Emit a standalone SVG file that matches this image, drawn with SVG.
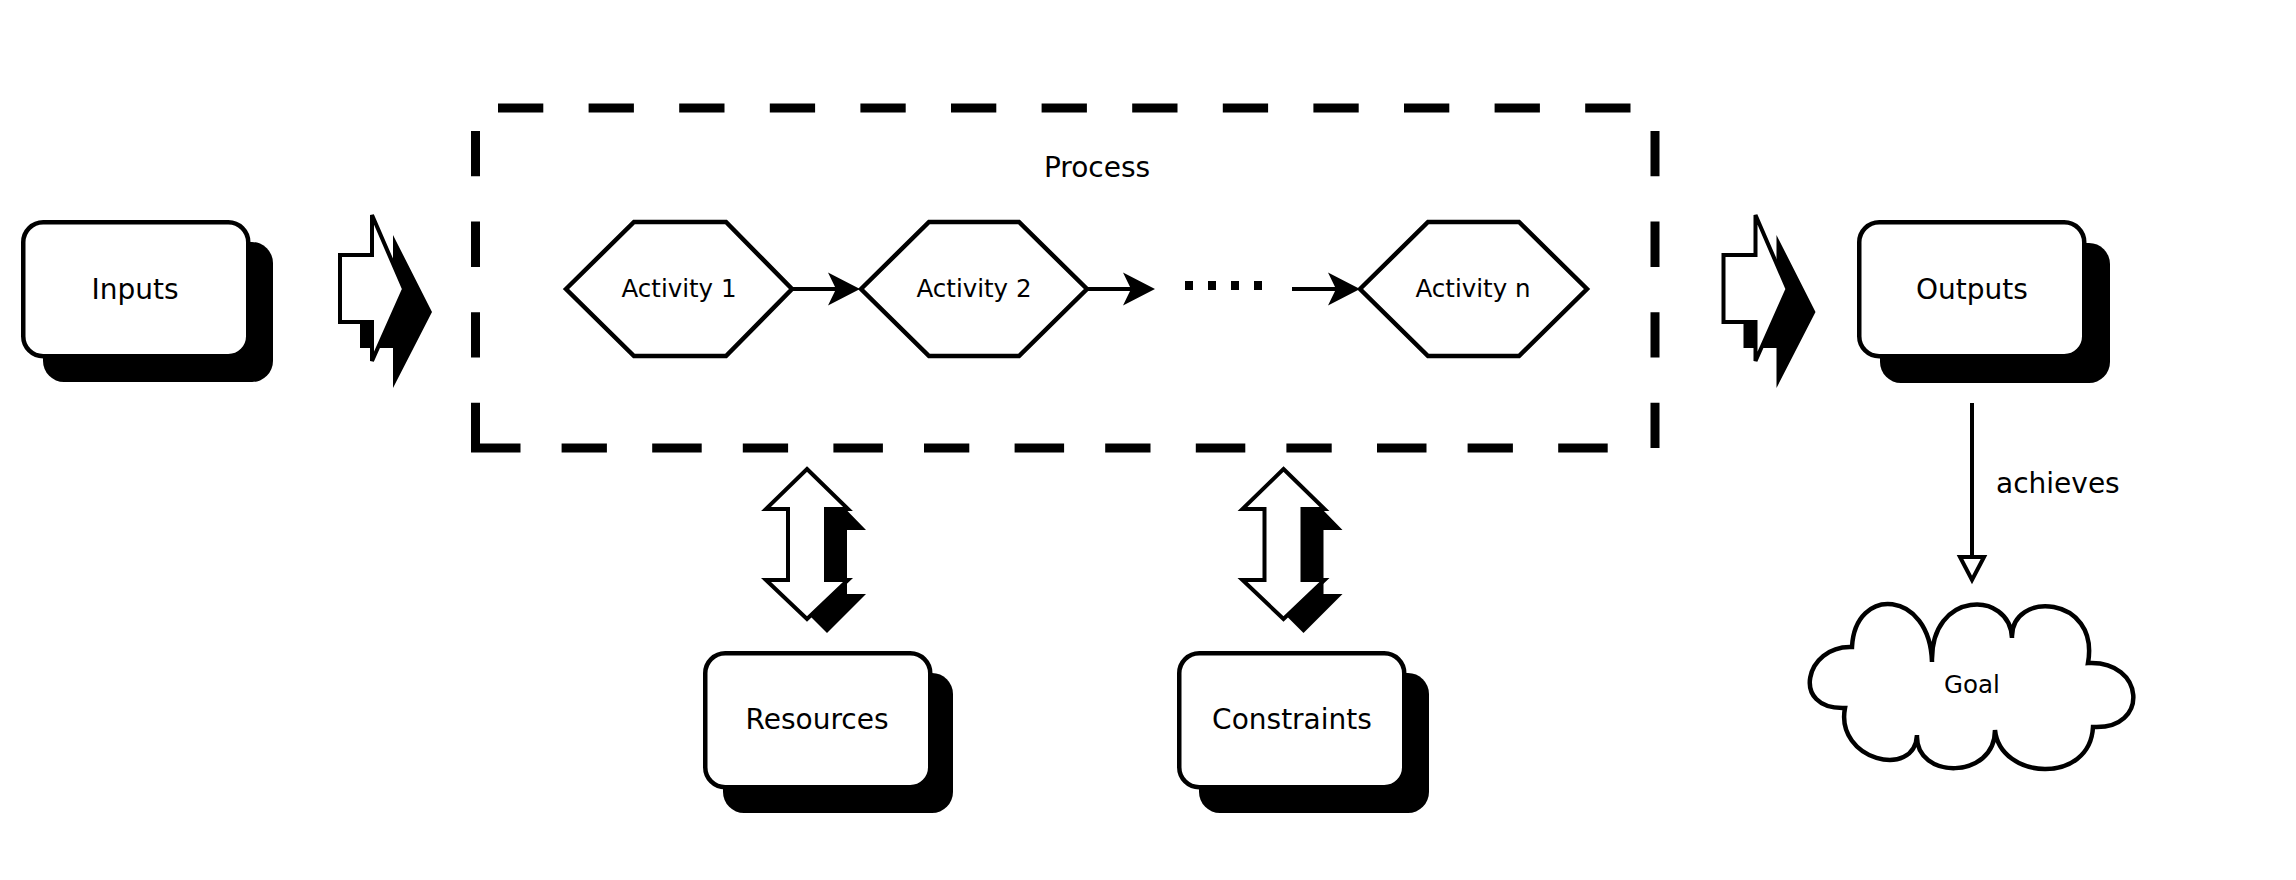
<svg xmlns="http://www.w3.org/2000/svg" width="2296" height="880" viewBox="0 0 2296 880">
<style>
  text { font-family: "DejaVu Sans", "Liberation Sans", sans-serif; fill: #000; }
  .lbl { font-size: 28px; text-anchor: middle; }
  .act { font-size: 24.5px; text-anchor: middle; }
  .box { fill: #fff; stroke: #000; stroke-width: 4.5; }
  .shadow { fill: #000; stroke: none; }
  .hex { fill: #fff; stroke: #000; stroke-width: 4.5; stroke-linejoin: miter; }
  .blk { fill: #fff; stroke: #000; stroke-width: 4; stroke-linejoin: miter; }
  .dash { fill: none; stroke: #000; stroke-width: 9; stroke-dasharray: 45.3 45.3; }
  .conn { fill: none; stroke: #000; stroke-width: 4; }
</style>
<defs>
  <marker id="dart" markerUnits="userSpaceOnUse" markerWidth="40" markerHeight="40" refX="8" refY="16.5" orient="auto" overflow="visible">
    <path d="M0,0 L32,16.5 L0,33 L8,16.5 Z" fill="#000"/>
  </marker>
  <marker id="hollow" markerUnits="userSpaceOnUse" markerWidth="40" markerHeight="40" refX="0" refY="0" orient="auto" overflow="visible">
    <path d="M0,-12 L23,0 L0,12 Z" fill="#fff" stroke="#000" stroke-width="4"/>
  </marker>
  <g id="dbl">
    <polygon class="shadow" points="827,490 866,530 847,530 847,594 866,594 827,633 788,594 807,594 807,530 788,530"/>
    <polygon class="blk" points="807,469 848,509 826,509 826,580 848,580 807,619 766,580 788,580 788,509 766,509"/>
  </g>
  <g id="blockarrow">
    <polygon class="shadow" points="360,276 393,276 393,235 432,312 393,388 393,348 360,348"/>
    <polygon class="blk" points="340,255 372,255 372,215 404,289 372,361 372,322 340,322"/>
  </g>
</defs>

<!-- Process container -->
<g id="process">
  <line class="dash" x1="498" y1="108" x2="1632" y2="108"/>
  <line class="dash" x1="475.5" y1="131" x2="475.5" y2="452.5"/>
  <line class="dash" x1="1655" y1="131" x2="1655" y2="452"/>
  <line class="dash" x1="471" y1="448" x2="1610" y2="448" style="stroke-dasharray: 49.5 41.1, 45.3 45.3"/>
  <text class="lbl" x="1097" y="177">Process</text>
</g>

<g id="inputs">
  <rect class="shadow" x="43" y="242" width="230" height="140" rx="21"/>
  <rect class="box" x="23.25" y="222.25" width="225" height="134" rx="20"/>
  <text class="lbl" x="135" y="299">Inputs</text>
</g>

<g id="outputs">
  <rect class="shadow" x="1880" y="243" width="230" height="140" rx="21"/>
  <rect class="box" x="1859.25" y="222.25" width="225" height="134" rx="20"/>
  <text class="lbl" x="1972" y="299">Outputs</text>
</g>

<g id="resources">
  <rect class="shadow" x="723" y="673" width="230" height="140" rx="21"/>
  <rect class="box" x="705.25" y="653.25" width="225" height="134" rx="20"/>
  <text class="lbl" x="817" y="729">Resources</text>
</g>

<g id="constraints">
  <rect class="shadow" x="1199" y="673" width="230" height="140" rx="21"/>
  <rect class="box" x="1179.25" y="653.25" width="225" height="134" rx="20"/>
  <text class="lbl" x="1292" y="729">Constraints</text>
</g>

<g id="activity1">
  <polygon class="hex" points="566,289 634,222 726,222 792,289 726,356 634,356"/>
  <text class="act" x="679" y="297">Activity 1</text>
</g>
<g id="activity2">
  <polygon class="hex" points="861,289 929,222 1019,222 1087,289 1019,356 929,356"/>
  <text class="act" x="974" y="297">Activity 2</text>
</g>
<g id="activityn">
  <polygon class="hex" points="1360,289 1428,222 1519,222 1587,289 1519,356 1428,356"/>
  <text class="act" x="1473" y="297">Activity n</text>
</g>

<g id="goal">
  <path d="M1852,647 C1805,645 1790,710 1845,708 C1835,760 1915,780 1917,735 C1915,780 1995,780 1995,730 C2000,780 2090,785 2093,727 C2150,730 2145,660 2088,663 C2100,595 2010,590 2012,638 C2010,590 1930,590 1932,662 C1930,590 1855,585 1852,647 Z" fill="#fff" stroke="#000" stroke-width="4.5"/>
  <text class="act" x="1972" y="693">Goal</text>
</g>

<g id="connectors">
  <use href="#blockarrow"/>
  <use href="#blockarrow" transform="translate(1383.5,0)"/>
  <use href="#dbl"/>
  <use href="#dbl" transform="translate(476.5,0)"/>
  <line class="conn" x1="792" y1="289" x2="836" y2="289" marker-end="url(#dart)"/>
  <line class="conn" x1="1087" y1="289" x2="1131" y2="289" marker-end="url(#dart)"/>
  <line x1="1185" y1="285.5" x2="1263" y2="285.5" stroke="#000" stroke-width="9" stroke-dasharray="8 15"/>
  <line class="conn" x1="1292" y1="289" x2="1336" y2="289" marker-end="url(#dart)"/>
  <line class="conn" x1="1972" y1="403" x2="1972" y2="557" marker-end="url(#hollow)"/>
  <text x="1996" y="493" style="font-size:28px">achieves</text>
</g>
</svg>
